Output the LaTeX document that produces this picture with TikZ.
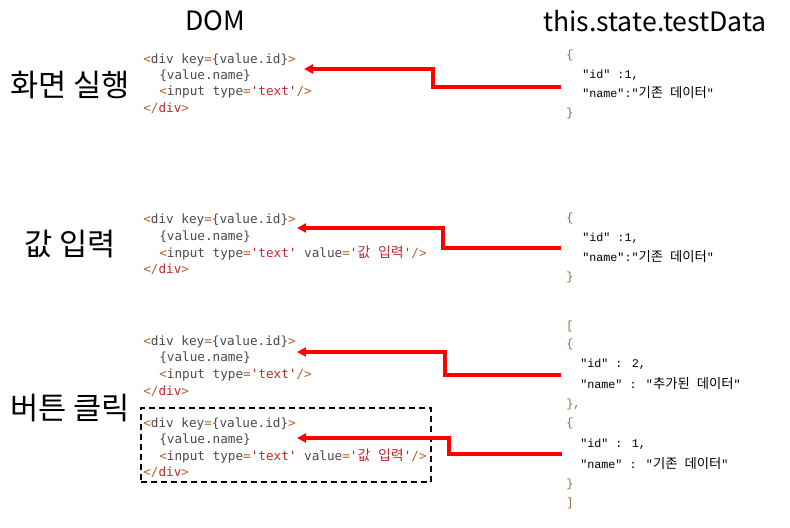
\documentclass[tikz,border=0pt]{standalone}
\usepackage{fontspec}
\setmainfont{Noto Sans CJK KR}
\newfontfamily\cjk{Noto Sans CJK KR}
\newfontfamily\codefont{DejaVu Sans Mono}
\newfontfamily\jsonfont{Liberation Mono}
\usetikzlibrary{arrows.meta}
\definecolor{tagbr}{HTML}{B0652E}
\definecolor{tagred}{HTML}{C0282D}
\definecolor{codegrey}{HTML}{4A4A4A}
\definecolor{brblue}{HTML}{3A7A9A}
\definecolor{brbrown}{HTML}{8B6A3A}
\definecolor{arrred}{HTML}{FF0000}
\newcommand\tb[1]{\textcolor{tagbr}{#1}}
\newcommand\tr[1]{\textcolor{tagred}{#1}}
\newcommand\kc[1]{{\cjk\fontsize{10.5}{12}\selectfont #1}}
\newcommand\kj[1]{{\cjk\fontsize{10}{12}\selectfont #1}}
\begin{document}
\begin{tikzpicture}[x=0.75pt,y=-0.75pt,
  codeline/.style={anchor=west,inner sep=0pt,font=\codefont\fontsize{9.5}{12}\selectfont,text=codegrey},
  jsonline/.style={anchor=west,inner sep=0pt,font=\jsonfont\fontsize{8.8}{10}\selectfont,text=black},
  title/.style={inner sep=0pt,font=\fontsize{20}{24}\selectfont},
  rowlabel/.style={inner sep=0pt,font=\fontsize{23}{27}\selectfont},
  redarrow/.style={draw=arrred,line width=2.3pt,-{Triangle[length=6.75pt,width=6.75pt]}},
  dashbox/.style={draw=black,dashed,dash pattern=on 4.5pt off 3pt,line width=1.6pt,inner sep=0pt}]
\useasboundingbox (0,0) rectangle (790,528);
\fill[white] (0,0) rectangle (790,528);
% titles
\node[title] (tdom) at (215,21) {DOM};
\node[title] (tdata) at (655,21) {this.state.testData};
% row labels
\node[rowlabel] (l1) at (70,85) {화면 실행};
\node[rowlabel] (l2) at (70,244) {값 입력};
\node[rowlabel] (l3) at (70,408) {버튼 클릭};
% block 1
\node[codeline] (c1a) at (143,60) {\tb{<}div key\tb{=}\{value.id\}\tb{>}};
\node[codeline] (c1b) at (159,76) {\{value.name\}};
\node[codeline] (c1c) at (159,92) {\tb{<}input type\tb{=}\tr{'text'}\tb{/>}};
\node[codeline] (c1d) at (143,108) {\tb{</}\tr{div}\tb{>}};
% block 2
\node[codeline] (c2a) at (143,220) {\tb{<}div key\tb{=}\{value.id\}\tb{>}};
\node[codeline] (c2b) at (159,237) {\{value.name\}};
\node[codeline] (c2c) at (159,253) {\tb{<}input type\tb{=}\tr{'text'} value\tb{=}\tr{'\kc{값}\ \kc{입력}'}\tb{/>}};
\node[codeline] (c2d) at (143,269) {\tb{</}\tr{div}\tb{>}};
% block 3
\node[codeline] (c3a) at (143,342) {\tb{<}div key\tb{=}\{value.id\}\tb{>}};
\node[codeline] (c3b) at (159,358) {\{value.name\}};
\node[codeline] (c3c) at (159,375) {\tb{<}input type\tb{=}\tr{'text'}\tb{/>}};
\node[codeline] (c3d) at (143,391) {\tb{</}\tr{div}\tb{>}};
% block 4
\node[codeline] (c4a) at (143,424) {\tb{<}div key\tb{=}\{value.id\}\tb{>}};
\node[codeline] (c4b) at (159,440) {\{value.name\}};
\node[codeline] (c4c) at (159,456) {\tb{<}input type\tb{=}\tr{'text'} value\tb{=}\tr{'\kc{값}\ \kc{입력}'}\tb{/>}};
\node[codeline] (c4d) at (143,472) {\tb{</}\tr{div}\tb{>}};
\node[dashbox,minimum width=217.5pt,minimum height=55.5pt] (box) at (286,445) {};
% json 1
\node[jsonline,text=brblue] (j1a) at (566,55) {\{};
\node[jsonline] (j1b) at (582,75) {"id" :1,};
\node[jsonline] (j1c) at (582,93) {"name":"\kj{기존}\ \kj{데이터}"};
\node[jsonline,text=brbrown] (j1d) at (566,113) {\}};
% json 2
\node[jsonline,text=brblue] (j2a) at (566,218) {\{};
\node[jsonline] (j2b) at (582,238) {"id" :1,};
\node[jsonline] (j2c) at (582,257) {"name":"\kj{기존}\ \kj{데이터}"};
\node[jsonline,text=brbrown] (j2d) at (566,277) {\}};
% json 3
\node[jsonline,text=brbrown] (j3a) at (566,326) {[};
\node[jsonline,text=brblue] (j3b) at (566,344) {\{};
\node[jsonline] (j3c) at (580,364) {"id" : 2,};
\node[jsonline] (j3d) at (580,384) {"name" : "\kj{추가된}\ \kj{데이터}"};
\node[jsonline,text=brbrown] (j3e) at (566,404) {\},};
\node[jsonline,text=brblue] (j3f) at (566,423) {\{};
\node[jsonline] (j3g) at (580,444) {"id" : 1,};
\node[jsonline] (j3h) at (580,464) {"name" : "\kj{기존}\ \kj{데이터}"};
\node[jsonline,text=brbrown] (j3i) at (566,484) {\}};
\node[jsonline,text=brbrown] (j3j) at (566,503) {]};
% arrows
\coordinate (s1) at (561,87);  \coordinate (k1) at (433,69);  \coordinate (e1) at (304,69);
\coordinate (s2) at (561,248); \coordinate (k2) at (443,228); \coordinate (e2) at (297,228);
\coordinate (s3) at (561,375); \coordinate (k3) at (445,352); \coordinate (e3) at (297,352);
\coordinate (s4) at (562,454); \coordinate (k4) at (449,438); \coordinate (e4) at (297,438);
\draw[redarrow] (s1) -| (k1) -- (e1);
\draw[redarrow] (s2) -| (k2) -- (e2);
\draw[redarrow] (s3) -| (k3) -- (e3);
\draw[redarrow] (s4) -| (k4) -- (e4);
\end{tikzpicture}
\end{document}
